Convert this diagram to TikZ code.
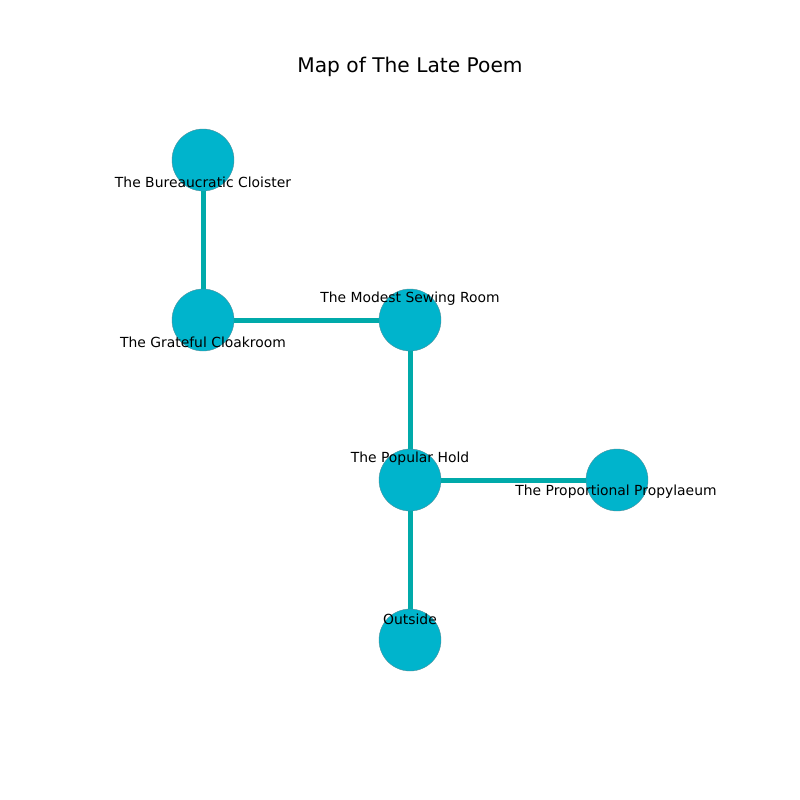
\documentclass[tikz,border=0pt]{standalone}
\usepackage{fontspec}
\setmainfont{DejaVu Sans}
\definecolor{nodefill}{HTML}{00B4CC}
\definecolor{edgecol}{HTML}{00AAAA}
\definecolor{nodeline}{HTML}{4F8F9A}
\begin{document}
\begin{tikzpicture}[x=1pt,y=-1pt,
  room/.style={circle,fill=nodefill,draw=nodeline,line width=0.4pt,minimum size=62pt,inner sep=0pt},
  lbl/.style={font=\fontsize{13.9}{16}\selectfont,inner sep=0pt,anchor=center},
  conn/.style={draw=edgecol,line width=5pt}]
\useasboundingbox (0,0) rectangle (800,800);
\node[font=\fontsize{20.2}{24}\selectfont] (title) at (410,67) {Map of The Late Poem};
\node[room] (bc) at (203,160) {};
\node[room] (gc) at (203,320) {};
\node[room] (ms) at (410,320) {};
\node[room] (ph) at (410,480) {};
\node[room] (pp) at (617,480) {};
\node[room] (out) at (410,640) {};
\path[conn] (bc) -- (gc);
\path[conn] (gc) -- (ms);
\path[conn] (ms) -- (ph);
\path[conn] (ph) -- (pp);
\path[conn] (ph) -- (out);
\node[lbl] (lbc) at (203,182) {The Bureaucratic Cloister};
\node[lbl] (lgc) at (203,342) {The Grateful Cloakroom};
\node[lbl] (lms) at (410,299) {The Modest Sewing Room};
\node[lbl] (lph) at (410,459) {The Popular Hold};
\node[lbl] (lpp) at (616,492) {The Proportional Propylaeum};
\node[lbl] (lout) at (410,619) {Outside};
\end{tikzpicture}
\end{document}
